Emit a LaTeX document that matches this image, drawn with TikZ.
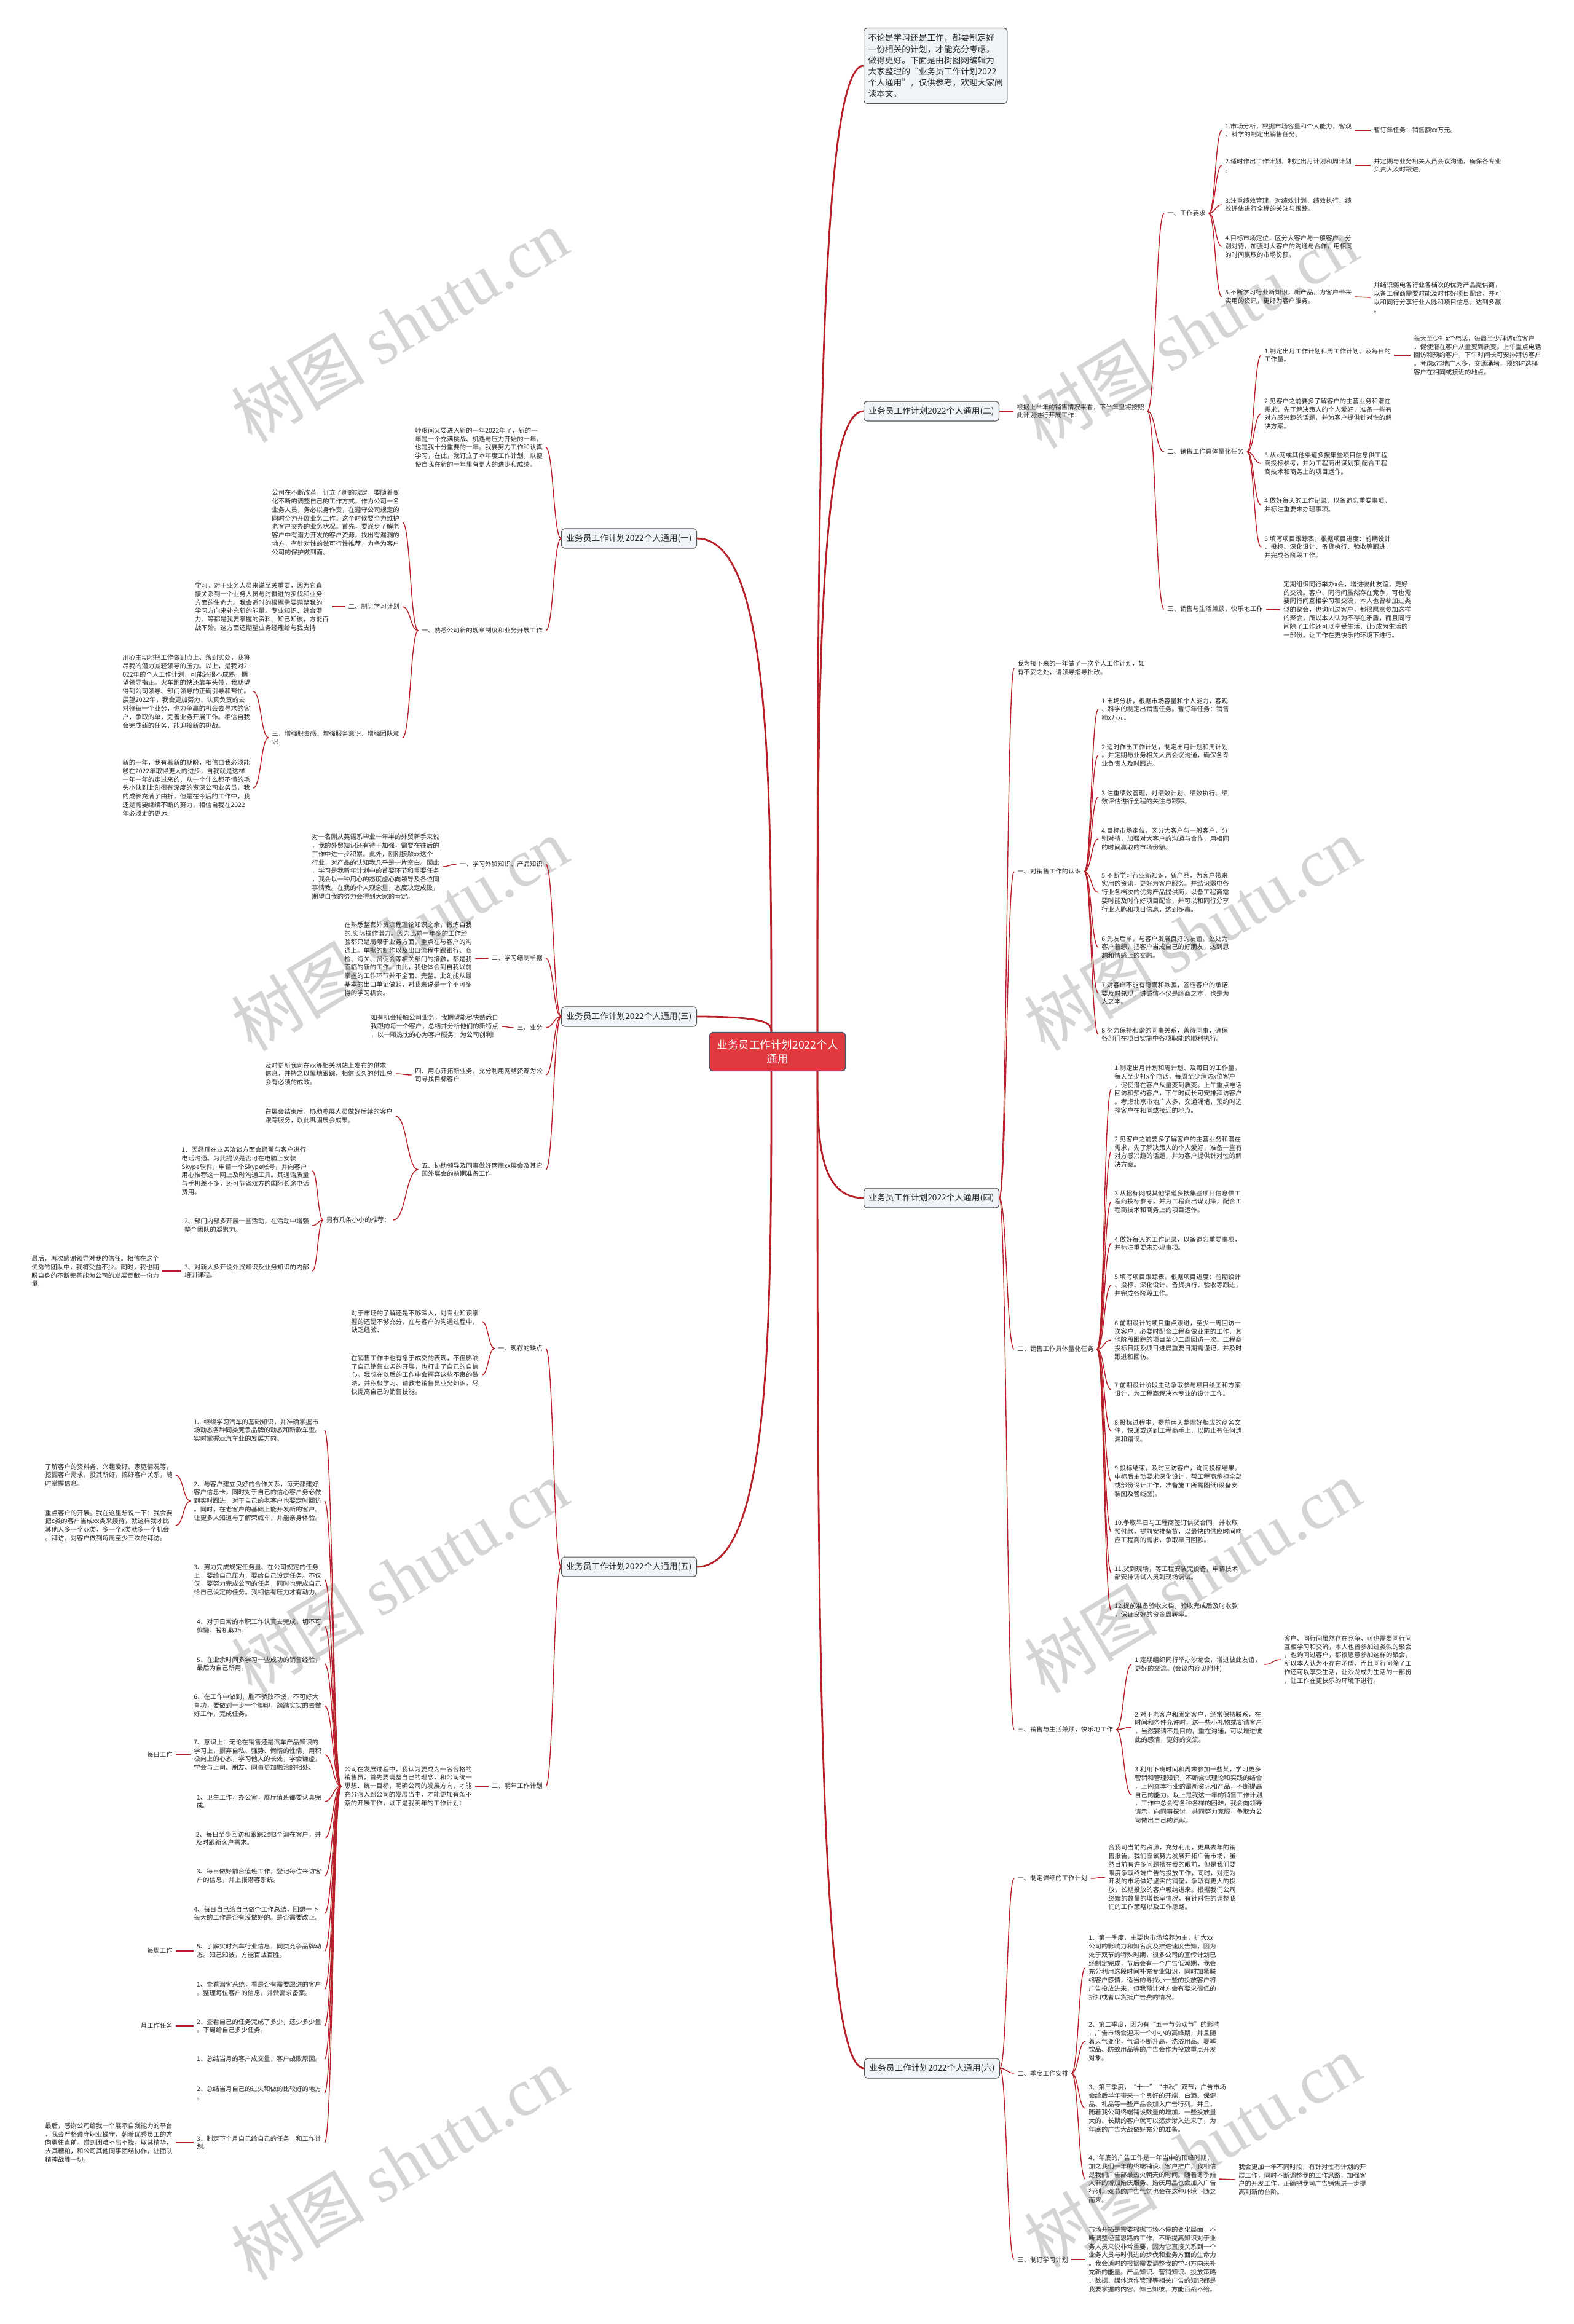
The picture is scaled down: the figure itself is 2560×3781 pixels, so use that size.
\documentclass[tikz,border=0pt]{standalone}
\usepackage{fontspec}
\setmainfont{Noto Sans CJK SC}
\newfontfamily\wmlatin{Liberation Serif}
\usepackage{xcolor}
\usepackage{tikz}
\usetikzlibrary{calc}

\definecolor{lred}{RGB}{183,32,40}
\definecolor{rootred}{RGB}{224,58,62}
\definecolor{rootline}{RGB}{70,84,110}
\definecolor{boxfill}{RGB}{240,243,247}
\definecolor{boxline}{RGB}{80,80,80}
\definecolor{txtc}{RGB}{40,40,40}

\newcommand\cntext{\fontsize{5.9pt}{7.9pt}\selectfont}
\newcommand\cnbox{\fontsize{7.8pt}{10.3pt}\selectfont}
\newcommand\cnroot{\fontsize{10pt}{13pt}\selectfont}
\newcommand\cnwm{\fontsize{62pt}{66pt}\selectfont}

\begin{document}
\begin{tikzpicture}[
    x=0.02cm, y=-0.02cm,
    rootbox/.style={rectangle, rounded corners=3pt, draw=rootline, fill=rootred, line width=0.8pt, text=white, font=\cnroot, align=center, minimum width=4.42cm, minimum height=1.26cm, inner sep=2pt},
    branch/.style={rectangle, rounded corners=3pt, draw=boxline, fill=boxfill, line width=0.6pt, text=txtc, font=\cnbox, minimum width=4.4cm, minimum height=0.64cm, inner sep=2pt, anchor=west},
    introbox/.style={branch, align=left, inner sep=4pt, minimum height=2.46cm},
    txt/.style={font=\cntext, text=txtc, align=left, inner sep=1pt, outer sep=2pt},
    rt/.style={txt, anchor=west},
    lt/.style={txt, anchor=east},
    trunk/.style={draw=lred, line width=1.6pt, to path={let \p1=(\tikztostart), \p2=(\tikztotarget) in .. controls (\x1,{0.5*\y1+0.5*\y2}) and (\x1,\y2) .. (\tikztotarget)}},
    link/.style={draw=lred, line width=0.8pt, to path={let \p1=(\tikztostart), \p2=(\tikztotarget) in .. controls ({0.5*\x1+0.5*\x2},\y1) and ({0.5*\x1+0.5*\x2},\y2) .. (\tikztotarget)}},
    wm/.style={text=black!17, rotate=31, font=\cnwm},
]

% Page and watermarks
\fill[white] (0, 0) rectangle (2560, 3781);
\path[use as bounding box] (0, 0) rectangle (2560, 3781);
\node[wm] (wm1) at (650, 530) {树图 {\wmlatin shutu.cn}};
\node[wm] (wm2) at (1935, 540) {树图 {\wmlatin shutu.cn}};
\node[wm] (wm3) at (650, 1520) {树图 {\wmlatin shutu.cn}};
\node[wm] (wm4) at (1940, 1520) {树图 {\wmlatin shutu.cn}};
\node[wm] (wm5) at (650, 2565) {树图 {\wmlatin shutu.cn}};
\node[wm] (wm6) at (1940, 2565) {树图 {\wmlatin shutu.cn}};
\node[wm] (wm7) at (650, 3520) {树图 {\wmlatin shutu.cn}};
\node[wm] (wm8) at (1940, 3500) {树图 {\wmlatin shutu.cn}};

% Root
\node[rootbox] (root) at (1265, 1711) {业务员工作计划2022个人\\通用};
\coordinate (rtu) at ($(root.north)+(65, 0)$);
\coordinate (rtd) at ($(root.south)+(65, 0)$);
\coordinate (ltu) at ($(root.north)+(-10, 0)$);
\coordinate (ltd) at ($(root.south)+(-10, 0)$);

% Main branches
\node[introbox] (intro) at (1405, 107) {不论是学习还是工作，都要制定好\\一份相关的计划，才能充分考虑，\\做得更好。下面是由树图网编辑为\\大家整理的“业务员工作计划2022\\个人通用”，仅供参考，欢迎大家阅\\读本文。};
\node[branch] (b2) at (1405, 669) {业务员工作计划2022个人通用(二)};
\node[branch] (b4) at (1405, 1949) {业务员工作计划2022个人通用(四)};
\node[branch] (b6) at (1406, 3365) {业务员工作计划2022个人通用(六)};
\node[branch, anchor=east] (b1) at (1134, 876) {业务员工作计划2022个人通用(一)};
\node[branch, anchor=east] (b3) at (1134, 1654) {业务员工作计划2022个人通用(三)};
\node[branch, anchor=east] (b5) at (1134, 2549) {业务员工作计划2022个人通用(五)};

\draw[trunk] (rtu) to (intro.west);
\draw[trunk] (rtu) to (b2.west);
\draw[trunk] (rtd) to (b4.west);
\draw[trunk] (rtd) to (b6.west);
\draw[trunk] (ltu) to (b1.east);
\draw[trunk] (ltu) to (b3.east);
\draw[trunk] (ltd) to (b5.east);

% Branch (二)
\node[rt] (b2t) at (1649, 669) {根据上半年的销售情况来看，下半年里将按照\\此计划进行开展工作：};
\node[rt] (b2a) at (1894, 347) {一、工作要求};
\node[rt] (b2a1) at (1988, 212) {1.市场分析，根据市场容量和个人能力，客观\\、科学的制定出销售任务。};
\node[rt] (b2a1x) at (2230, 212) {暂订年任务：销售额xx万元。};
\node[rt] (b2a2) at (1988, 269) {2.适时作出工作计划，制定出月计划和周计划\\。};
\node[rt] (b2a2x) at (2230, 269) {并定期与业务相关人员会议沟通，确保各专业\\负责人及时跟进。};
\node[rt] (b2a3) at (1988, 333) {3.注重绩效管理，对绩效计划、绩效执行、绩\\效评估进行全程的关注与跟踪。};
\node[rt] (b2a4) at (1988, 401) {4.目标市场定位，区分大客户与一般客户，分\\别对待，加强对大客户的沟通与合作，用相同\\的时间赢取的市场份额。};
\node[rt] (b2a5) at (1988, 483) {5.不断学习行业新知识，新产品，为客户带来\\实用的资讯，更好为客户服务。};
\node[rt] (b2a5x) at (2230, 484) {并结识弱电各行业各档次的优秀产品提供商，\\以备工程商需要时能及时作好项目配合，并可\\以和同行分享行业人脉和项目信息，达到多赢\\。};
\node[rt] (b2b) at (1894, 735) {二、销售工作具体量化任务};
\node[rt] (b2b1) at (2052, 578) {1.制定出月工作计划和周工作计划、及每日的\\工作量。};
\node[rt] (b2b1x) at (2295, 578) {每天至少打x个电话，每周至少拜访x位客户\\，促使潜在客户从量变到质变。上午重点电话\\回访和预约客户，下午时间长可安排拜访客户\\。考虑x市地广人多，交通涌堵，预约时选择\\客户在相同或接近的地点。};
\node[rt] (b2b2) at (2052, 673) {2.见客户之前要多了解客户的主营业务和潜在\\需求，先了解决策人的个人爱好，准备一些有\\对方感兴趣的话题，并为客户提供针对性的解\\决方案。};
\node[rt] (b2b3) at (2052, 754) {3.从x网或其他渠道多搜集些项目信息供工程\\商投标参考，并为工程商出谋划策,配合工程\\商技术和商务上的项目运作。};
\node[rt] (b2b4) at (2052, 822) {4.做好每天的工作记录，以备遗忘重要事项，\\并标注重要未办理事项。};
\node[rt] (b2b5) at (2052, 890) {5.填写项目跟踪表，根据项目进度：前期设计\\、投标、深化设计、备货执行、验收等跟进，\\并完成各阶段工作。};
\node[rt] (b2c) at (1894, 991) {三、销售与生活兼顾，快乐地工作};
\node[rt] (b2cx) at (2083, 992) {定期组织同行举办x会，增进彼此友谊，更好\\的交流。客户、同行间虽然存在竞争，可也需\\要同行间互相学习和交流，本人也曾参加过类\\似的聚会，也询问过客户，都很愿意参加这样\\的聚会，所以本人认为不存在矛盾，而且同行\\间除了工作还可以享受生活，让x成为生活的\\一部份，让工作在更快乐的环境下进行。};

\draw[link] (b2.east) to (b2t.west);
\draw[link] (b2t.east) to (b2a.west);
\draw[link] (b2t.east) to (b2b.west);
\draw[link] (b2t.east) to (b2c.west);
\draw[link] (b2a.east) to (b2a1.west);
\draw[link] (b2a.east) to (b2a2.west);
\draw[link] (b2a.east) to (b2a3.west);
\draw[link] (b2a.east) to (b2a4.west);
\draw[link] (b2a.east) to (b2a5.west);
\draw[link] (b2a1.east) to (b2a1x.west);
\draw[link] (b2a2.east) to (b2a2x.west);
\draw[link] (b2a5.east) to (b2a5x.west);
\draw[link] (b2b.east) to (b2b1.west);
\draw[link] (b2b.east) to (b2b2.west);
\draw[link] (b2b.east) to (b2b3.west);
\draw[link] (b2b.east) to (b2b4.west);
\draw[link] (b2b.east) to (b2b5.west);
\draw[link] (b2b1.east) to (b2b1x.west);
\draw[link] (b2c.east) to (b2cx.west);

% Branch (四)
\node[rt] (b4t) at (1650, 1087) {我为接下来的一年做了一次个人工作计划，如\\有不妥之处，请领导指导批改。};
\node[rt] (b4a) at (1650, 1418) {一、对销售工作的认识};
\node[rt] (b4a1) at (1787, 1154) {1.市场分析，根据市场容量和个人能力，客观\\、科学的制定出销售任务。暂订年任务：销售\\额x万元。};
\node[rt] (b4a2) at (1787, 1229) {2.适时作出工作计划，制定出月计划和周计划\\。并定期与业务相关人员会议沟通，确保各专\\业负责人及时跟进。};
\node[rt] (b4a3) at (1787, 1297) {3.注重绩效管理，对绩效计划、绩效执行、绩\\效评估进行全程的关注与跟踪。};
\node[rt] (b4a4) at (1787, 1365) {4.目标市场定位，区分大客户与一般客户，分\\别对待，加强对大客户的沟通与合作，用相同\\的时间赢取的市场份额。};
\node[rt] (b4a5) at (1787, 1452) {5.不断学习行业新知识，新产品，为客户带来\\实用的资讯，更好为客户服务。并结识弱电各\\行业各档次的优秀产品提供商，以备工程商需\\要时能及时作好项目配合，并可以和同行分享\\行业人脉和项目信息，达到多赢。};
\node[rt] (b4a6) at (1787, 1541) {6.先友后单，与客户发展良好的友谊，处处为\\客户着想，把客户当成自己的好朋友，达到思\\想和情感上的交融。};
\node[rt] (b4a7) at (1787, 1616) {7.对客户不能有隐瞒和欺骗，答应客户的承诺\\要及时兑现，讲诚信不仅是经商之本，也是为\\人之本。};
\node[rt] (b4a8) at (1787, 1683) {8.努力保持和谐的同事关系，善待同事，确保\\各部门在项目实施中各项职能的顺利执行。};
\node[rt] (b4b) at (1650, 2195) {二、销售工作具体量化任务};
\node[rt] (b4b1) at (1808, 1772) {1.制定出月计划和周计划、及每日的工作量。\\每天至少打x个电话，每周至少拜访x位客户\\，促使潜在客户从量变到质变。上午重点电话\\回访和预约客户，下午时间长可安排拜访客户\\。考虑北京市地广人多，交通涌堵，预约时选\\择客户在相同或接近的地点。};
\node[rt] (b4b2) at (1808, 1874) {2.见客户之前要多了解客户的主营业务和潜在\\需求，先了解决策人的个人爱好，准备一些有\\对方感兴趣的话题，并为客户提供针对性的解\\决方案。};
\node[rt] (b4b3) at (1808, 1955) {3.从招标网或其他渠道多搜集些项目信息供工\\程商投标参考，并为工程商出谋划策，配合工\\程商技术和商务上的项目运作。};
\node[rt] (b4b4) at (1808, 2023) {4.做好每天的工作记录，以备遗忘重要事项，\\并标注重要未办理事项。};
\node[rt] (b4b5) at (1808, 2091) {5.填写项目跟踪表，根据项目进度：前期设计\\、投标、深化设计、备货执行、验收等跟进，\\并完成各阶段工作。};
\node[rt] (b4b6) at (1808, 2180) {6.前期设计的项目重点跟进，至少一周回访一\\次客户，必要时配合工程商做业主的工作，其\\他阶段跟踪的项目至少二周回访一次。工程商\\投标日期及项目进展重要日期需谨记，并及时\\跟进和回访。};
\node[rt] (b4b7) at (1808, 2261) {7.前期设计阶段主动争取参与项目绘图和方案\\设计，为工程商解决本专业的设计工作。};
\node[rt] (b4b8) at (1808, 2328) {8.投标过程中，提前两天整理好相应的商务文\\件，快递或送到工程商手上，以防止有任何遗\\漏和错误。};
\node[rt] (b4b9) at (1808, 2410) {9.投标结束，及时回访客户，询问投标结果。\\中标后主动要求深化设计，帮工程商承担全部\\或部份设计工作，准备施工所需图纸(设备安\\装图及管线图)。};
\node[rt] (b4b10) at (1808, 2492) {10.争取早日与工程商签订供货合同，并收取\\预付款，提前安排备货，以最快的供应时间响\\应工程商的需求，争取早日回款。};
\node[rt] (b4b11) at (1808, 2559) {11.货到现场，等工程安装完设备，申请技术\\部安排调试人员到现场调试。};
\node[rt] (b4b12) at (1808, 2620) {12.提前准备验收文档，验收完成后及时收款\\，保证良好的资金周转率。};
\node[rt] (b4c) at (1650, 2814) {三、销售与生活兼顾，快乐地工作};
\node[rt] (b4c1) at (1841, 2708) {1.定期组织同行举办沙龙会，增进彼此友谊，\\更好的交流。(会议内容见附件)};
\node[rt] (b4c1x) at (2084, 2700) {客户、同行间虽然存在竞争，可也需要同行间\\互相学习和交流，本人也曾参加过类似的聚会\\，也询问过客户，都很愿意参加这样的聚会，\\所以本人认为不存在矛盾，而且同行间除了工\\作还可以享受生活，让沙龙成为生活的一部份\\，让工作在更快乐的环境下进行。};
\node[rt] (b4c2) at (1841, 2810) {2.对于老客户和固定客户，经常保持联系，在\\时间和条件允许时，送一些小礼物或宴请客户\\，当然宴请不是目的，重在沟通，可以增进彼\\此的感情，更好的交流。};
\node[rt] (b4c3) at (1841, 2920) {3.利用下班时间和周末参加一些某，学习更多\\营销和管理知识，不断尝试理论和实践的结合\\，上网查本行业的最新资讯和产品，不断提高\\自己的能力。以上是我这一年的销售工作计划\\，工作中总会有各种各样的困难，我会向领导\\请示，向同事探讨，共同努力克服，争取为公\\司做出自己的贡献。};

\draw[link] (b4.east) to (b4t.west);
\draw[link] (b4.east) to (b4a.west);
\draw[link] (b4.east) to (b4b.west);
\draw[link] (b4.east) to (b4c.west);
\draw[link] (b4a.east) to (b4a1.west);
\draw[link] (b4a.east) to (b4a2.west);
\draw[link] (b4a.east) to (b4a3.west);
\draw[link] (b4a.east) to (b4a4.west);
\draw[link] (b4a.east) to (b4a5.west);
\draw[link] (b4a.east) to (b4a6.west);
\draw[link] (b4a.east) to (b4a7.west);
\draw[link] (b4a.east) to (b4a8.west);
\draw[link] (b4b.east) to (b4b1.west);
\draw[link] (b4b.east) to (b4b2.west);
\draw[link] (b4b.east) to (b4b3.west);
\draw[link] (b4b.east) to (b4b4.west);
\draw[link] (b4b.east) to (b4b5.west);
\draw[link] (b4b.east) to (b4b6.west);
\draw[link] (b4b.east) to (b4b7.west);
\draw[link] (b4b.east) to (b4b8.west);
\draw[link] (b4b.east) to (b4b9.west);
\draw[link] (b4b.east) to (b4b10.west);
\draw[link] (b4b.east) to (b4b11.west);
\draw[link] (b4b.east) to (b4b12.west);
\draw[link] (b4c.east) to (b4c1.west);
\draw[link] (b4c.east) to (b4c2.west);
\draw[link] (b4c.east) to (b4c3.west);
\draw[link] (b4c1.east) to (b4c1x.west);

% Branch (六)
\node[rt] (b6a) at (1650, 3056) {一、制定详细的工作计划};
\node[rt] (b6ax) at (1798, 3054) {合我司当前的资源，充分利用，更具去年的销\\售报告，我们应该努力发展开拓广告市场，虽\\然目前有许多问题摆在我的眼前，但是我们要\\限度争取终端广告的投放工作，同时，对还为\\开发的市场做好坚实的铺垫，争取有更大的投\\放，长期投放的客户吸纳进来。根据我们公司\\终端的数量的增长率情况，有针对性的调整我\\们的工作策略以及工作思路。};
\node[rt] (b6b) at (1650, 3373) {二、季度工作安排};
\node[rt] (b6b1) at (1766, 3201) {1、第一季度，主要也市场培养为主，扩大xx\\公司的影响力和知名度及推进速度告知，因为\\处于双节的特殊时期，很多公司的宣传计划已\\经制定完成，节后会有一个广告低潮期，我会\\充分利用这段时间补充专业知识，同时加紧联\\络客户感情，适当的寻找小一些的投放客户将\\广告投放进来，但我预计对方会有要求很低的\\折扣或者以货抵广告费的情况。};
\node[rt] (b6b2) at (1766, 3321) {2、第二季度，因为有“五一节劳动节”的影响\\，广告市场会迎来一个小小的高峰期，并且随\\着天气变化，气温不断升高，洗浴用品、夏季\\饮品、防蚊用品等的广告会作为投放重点开发\\对象。};
\node[rt] (b6b3) at (1766, 3430) {3、第三季度，“十一”“中秋”双节，广告市场\\会给后半年带来一个良好的开端，白酒、保健\\品、礼品等一些产品会加入广告行列。并且，\\随着我公司终端铺设数量的增加，一些投放量\\大的、长期的客户就可以逐步渗入进来了，为\\年底的广告大战做好充分的准备。};
\node[rt] (b6b4) at (1766, 3545) {4、年底的广告工作是一年当中的顶峰时期，\\加之我们一年的终端铺设、客户推广，我相信\\是我们广告部最热火朝天的时间。随着冬季婚\\人群的增加婚庆服务、婚庆用品也会加入广告\\行列，双节的广告气氛也会在这种环境下随之\\而来。};
\node[rt] (b6b4x) at (2010, 3546) {我会更加一年不同时段，有针对性有计划的开\\展工作，同时不断调整我的工作思路，加强客\\户的开发工作，正确把我司广告销售进一步提\\高到新的台阶。};
\node[rt] (b6c) at (1650, 3676) {三、制订学习计划};
\node[rt] (b6cx) at (1766, 3676) {市场开拓是需要根据市场不停的变化局面，不\\断调整经营思路的工作，不断提高知识对于业\\务人员来说非常重要，因为它直接关系到一个\\业务人员与时俱进的步伐和业务方面的生命力\\。我会适时的根据需要调整我的学习方向来补\\充新的能量。产品知识、营销知识、投放策略\\、数据、媒体运作管理等相关广告的知识都是\\我要掌握的内容，知己知彼，方能百战不殆。};

\draw[link] (b6.east) to (b6a.west);
\draw[link] (b6.east) to (b6b.west);
\draw[link] (b6.east) to (b6c.west);
\draw[link] (b6a.east) to (b6ax.west);
\draw[link] (b6b.east) to (b6b1.west);
\draw[link] (b6b.east) to (b6b2.west);
\draw[link] (b6b.east) to (b6b3.west);
\draw[link] (b6b.east) to (b6b4.west);
\draw[link] (b6b4.east) to (b6b4x.west);
\draw[link] (b6c.east) to (b6cx.west);

% Branch (一)
\node[lt] (b1a) at (888, 728) {转眼间又要进入新的一年2022年了，新的一\\年是一个充满挑战、机遇与压力开始的一年，\\也是我十分重要的一年。我要努力工作和认真\\学习，在此，我订立了本年度工作计划，以便\\使自我在新的一年里有更大的进步和成绩。};
\node[lt] (b1b) at (888, 1026) {一、熟悉公司新的规章制度和业务开展工作};
\node[lt] (b1b1) at (655, 850) {公司在不断改革，订立了新的规定，要随着变\\化不断的调整自己的工作方式。作为公司一名\\业务人员，务必以身作责，在遵守公司规定的\\同时全力开展业务工作。这个时候要全力维护\\老客户交办的业务状况。首先，要逐步了解老\\客户中有潜力开发的客户资源，找出有漏洞的\\地方，有针对性的做可行性推荐，力争为客户\\公司的保护做到面。};
\node[lt] (b1b2) at (655, 987) {二、制订学习计划};
\node[lt] (b1b2x) at (540, 987) {学习。对于业务人员来说至关重要，因为它直\\接关系到一个业务人员与时俱进的步伐和业务\\方面的生命力。我会适时的根据需要调整我的\\学习方向来补充新的能量。专业知识、综合潜\\力、等都是我要掌握的资料。知己知彼，方能百\\战不殆。这方面还期望业务经理给与我支持};
\node[lt] (b1b3) at (655, 1200) {三、增强职责感、增强服务意识、增强团队意\\识};
\node[lt] (b1b3a) at (412, 1125) {用心主动地把工作做到点上、落到实处，我将\\尽我的潜力减轻领导的压力。以上，是我对2\\022年的个人工作计划，可能还很不成熟，期\\望领导指正。火车跑的快还靠车头带，我期望\\得到公司领导、部门领导的正确引导和帮忙。\\展望2022年，我会更加努力、认真负责的去\\对待每一个业务，也力争赢的机会去寻求的客\\户，争取的单，完善业务开展工作。相信自我\\会完成新的任务，能迎接新的挑战。};
\node[lt] (b1b3b) at (412, 1282) {新的一年，我有着新的期盼，相信自我必须能\\够在2022年取得更大的进步，自我就是这样\\一年一年的走过来的，从一个什么都不懂的毛\\头小伙到此刻很有深度的资深公司业务员，我\\的成长充满了曲折，但是在今后的工作中，我\\还是需要继续不断的努力，相信自我在2022\\年必须走的更远!};

\draw[link] (b1.west) to (b1a.east);
\draw[link] (b1.west) to (b1b.east);
\draw[link] (b1b.west) to (b1b1.east);
\draw[link] (b1b.west) to (b1b2.east);
\draw[link] (b1b.west) to (b1b3.east);
\draw[link] (b1b2.west) to (b1b2x.east);
\draw[link] (b1b3.west) to (b1b3a.east);
\draw[link] (b1b3.west) to (b1b3b.east);

% Branch (三)
\node[lt] (b3a) at (888, 1406) {一、学习外贸知识、产品知识};
\node[lt] (b3ax) at (720, 1410) {对一名刚从英语系毕业一年半的外贸新手来说\\，我的外贸知识还有待于加强，需要在往后的\\工作中进一步积累。此外，刚刚接触xx这个\\行业，对产品的认知我几乎是一片空白。因此\\，学习是我新年计划中的首要环节和重要任务\\，我会以一种用心的态度虚心向领导及各位同\\事请教。在我的个人观念里，态度决定成败，\\期望自我的努力会得到大家的肯定。};
\node[lt] (b3b) at (888, 1559) {二、学习缮制单据};
\node[lt] (b3bx) at (773, 1560) {在熟悉整套外贸流程理论知识之余，锻炼自我\\的.实际操作潜力。因为此前一年多的工作经\\验都只是局限于业务方面，重点在与客户的沟\\通上。单据的制作以及出口流程中跟银行、商\\检、海关、贸促会等相关部门的接触，都是我\\面临的新的工作。由此，我也体会到自我以前\\掌握的工作环节并不全面、完整。此刻能从最\\基本的出口单证做起，对我来说是一个不可多\\得的学习机会。};
\node[lt] (b3c) at (888, 1672) {三、业务};
\node[lt] (b3cx) at (816, 1670) {如有机会接触公司业务，我期望能尽快熟悉自\\我跟的每一个客户，总结并分析他们的新特点\\，以一颗热忱的心为客户服务，为公司创利!};
\node[lt] (b3d) at (888, 1749) {四、用心开拓新业务，充分利用网络资源为公\\司寻找目标客户};
\node[lt] (b3dx) at (644, 1747) {及时更新我司在xx等相关网站上发布的供求\\信息，并持之以恒地跟踪，相信长久的付出总\\会有必须的成效。};
\node[lt] (b3e) at (888, 1903) {五、协助领导及同事做好两届xx展会及其它\\国外展会的前期准备工作};
\node[lt] (b3e1) at (644, 1816) {在展会结束后，协助参展人员做好后续的客户\\跟踪服务，以此巩固展会成果。};
\node[lt] (b3e2) at (640, 1985) {另有几条小小的推荐：};
\node[lt] (b3e2a) at (508, 1905) {1、因经理在业务洽谈方面会经常与客户进行\\电话沟通。为此提议是否可在电脑上安装\\Skype软件，申请一个Skype帐号，并向客户\\用心推荐这一网上及时沟通工具。其通话质量\\与手机差不多，还可节省双方的国际长途电话\\费用。};
\node[lt] (b3e2b) at (508, 1994) {2、部门内部多开展一些活动，在活动中增强\\整个团队的凝聚力。};
\node[lt] (b3e2c) at (508, 2068) {3、对新人多开设外贸知识及业务知识的内部\\培训课程。};
\node[lt] (b3e2cx) at (264, 2068) {最后，再次感谢领导对我的信任。相信在这个\\优秀的团队中，我将受益不少。同时，我也期\\盼自身的不断完善能为公司的发展贡献一份力\\量!};

\draw[link] (b3.west) to (b3a.east);
\draw[link] (b3.west) to (b3b.east);
\draw[link] (b3.west) to (b3c.east);
\draw[link] (b3.west) to (b3d.east);
\draw[link] (b3.west) to (b3e.east);
\draw[link] (b3a.west) to (b3ax.east);
\draw[link] (b3b.west) to (b3bx.east);
\draw[link] (b3c.west) to (b3cx.east);
\draw[link] (b3d.west) to (b3dx.east);
\draw[link] (b3e.west) to (b3e1.east);
\draw[link] (b3e.west) to (b3e2.east);
\draw[link] (b3e2.west) to (b3e2a.east);
\draw[link] (b3e2.west) to (b3e2b.east);
\draw[link] (b3e2.west) to (b3e2c.east);
\draw[link] (b3e2c.west) to (b3e2cx.east);

% Branch (五)
\node[lt] (b5a) at (888, 2194) {一、现存的缺点};
\node[lt] (b5a1) at (784, 2150) {对于市场的了解还是不够深入，对专业知识掌\\握的还是不够充分，在与客户的沟通过程中，\\缺乏经验、};
\node[lt] (b5a2) at (784, 2237) {在销售工作中也有急于成交的表现，不但影响\\了自己销售业务的开展，也打击了自己的自信\\心。我想在以后的工作中会摒弃这些不良的做\\法，并积极学习、请教老销售员业务知识，尽\\快提高自己的销售技能。};
\node[lt] (b5b) at (888, 2906) {二、明年工作计划};
\node[lt] (b5bt) at (773, 2906) {公司在发展过程中，我认为要成为一名合格的\\销售员，首先要调整自己的理念，和公司统一\\思想、统一目标，明确公司的发展方向，才能\\充分溶入到公司的发展当中，才能更加有条不\\紊的开展工作，以下是我明年的工作计划：};
\node[lt] (b5b1) at (528, 2327) {1、继续学习汽车的基础知识，并准确掌握市\\场动态各种同类竞争品牌的动态和新款车型。\\实时掌握xx汽车业的发展方向。};
\node[lt] (b5b2) at (528, 2442) {2、与客户建立良好的合作关系，每天都建好\\客户信息卡，同时对于自己的信心客户务必做\\到实时跟进，对于自己的老客户也要定时回访\\。同时，在老客户的基础上能开发新的客户。\\让更多人知道与了解荣威车，并能亲身体验。};
\node[lt] (b5b2a) at (286, 2400) {了解客户的资料务、兴趣爱好、家庭情况等，\\挖掘客户需求，投其所好，搞好客户关系，随\\时掌握信息。};
\node[lt] (b5b2b) at (286, 2482) {重点客户的开展。我在这里想说一下：我会要\\把c类的客户当成xx类来接待，就这样我才比\\其他人多一个xx类，多一个x类就多一个机会\\。拜访，对客户做到每周至少三次的拜访。};
\node[lt] (b5b3) at (528, 2570) {3、努力完成规定任务量、在公司规定的任务\\上，要给自己压力，要给自己设定任务。不仅\\仅，要努力完成公司的任务，同时也完成自己\\给自己设定的任务。我相信有压力才有动力。};
\node[lt] (b5b4) at (528, 2646) {4、对于日常的本职工作认真去完成，切不可\\偷懒，投机取巧。};
\node[lt] (b5b5) at (528, 2707) {5、在业余时间多学习一些成功的销售经验，\\最后为自己所用。};
\node[lt] (b5b6) at (528, 2775) {6、在工作中做到，胜不骄败不馁，不可好大\\喜功，要做到一步一个脚印，踏踏实实的去做\\好工作，完成任务。};
\node[lt] (b5b7) at (528, 2855) {7、意识上：无论在销售还是汽车产品知识的\\学习上，摒弃自私、强势、懒惰的性情，用积\\极向上的心态，学习他人的长处，学会谦虚，\\学会与上司、朋友、同事更加融洽的相处、};
\node[lt] (b5b7x) at (286, 2855) {每日工作};
\node[lt] (b5b8) at (528, 2931) {1、卫生工作，办公室，展厅值班都要认真完\\成。};
\node[lt] (b5b9) at (528, 2991) {2、每日至少回访和跟踪2到3个潜在客户，并\\及时跟新客户需求。};
\node[lt] (b5b10) at (528, 3052) {3、每日做好前台值班工作，登记每位来访客\\户的信息，并上报潜客系统。};
\node[lt] (b5b11) at (528, 3113) {4、每日自己给自己做个工作总结，回想一下\\每天的工作是否有没做好的。是否需要改正。};
\node[lt] (b5b12) at (528, 3174) {5、了解实时汽车行业信息，同类竞争品牌动\\态。知己知彼，方能百战百胜。};
\node[lt] (b5b12x) at (286, 3174) {每周工作};
\node[lt] (b5b13) at (528, 3236) {1、查看潜客系统，看是否有需要跟进的客户\\。整理每位客户的信息，并做需求备案。};
\node[lt] (b5b14) at (528, 3296) {2、查看自己的任务完成了多少，还少多少量\\。下周给自己多少任务。};
\node[lt] (b5b14x) at (286, 3296) {月工作任务};
\node[lt] (b5b15) at (528, 3350) {1、总结当月的客户成交量，客户战败原因。};
\node[lt] (b5b16) at (528, 3405) {2、总结当月自己的过失和做的比较好的地方\\。};
\node[lt] (b5b17) at (528, 3486) {3、制定下个月自己给自己的任务，和工作计\\划。};
\node[lt] (b5b17x) at (286, 3486) {最后，感谢公司给我一个展示自我能力的平台\\，我会严格遵守职业操守，朝着优秀员工的方\\向勇往直前。碰到困难不屈不挠，取其精华，\\去其糟粕，和公司其他同事团结协作，让团队\\精神战胜一切。};

\draw[link] (b5.west) to (b5a.east);
\draw[link] (b5.west) to (b5b.east);
\draw[link] (b5a.west) to (b5a1.east);
\draw[link] (b5a.west) to (b5a2.east);
\draw[link] (b5b.west) to (b5bt.east);
\draw[link] (b5bt.west) to (b5b1.east);
\draw[link] (b5bt.west) to (b5b2.east);
\draw[link] (b5bt.west) to (b5b3.east);
\draw[link] (b5bt.west) to (b5b4.east);
\draw[link] (b5bt.west) to (b5b5.east);
\draw[link] (b5bt.west) to (b5b6.east);
\draw[link] (b5bt.west) to (b5b7.east);
\draw[link] (b5bt.west) to (b5b8.east);
\draw[link] (b5bt.west) to (b5b9.east);
\draw[link] (b5bt.west) to (b5b10.east);
\draw[link] (b5bt.west) to (b5b11.east);
\draw[link] (b5bt.west) to (b5b12.east);
\draw[link] (b5bt.west) to (b5b13.east);
\draw[link] (b5bt.west) to (b5b14.east);
\draw[link] (b5bt.west) to (b5b15.east);
\draw[link] (b5bt.west) to (b5b16.east);
\draw[link] (b5bt.west) to (b5b17.east);
\draw[link] (b5b2.west) to (b5b2a.east);
\draw[link] (b5b2.west) to (b5b2b.east);
\draw[link] (b5b7.west) to (b5b7x.east);
\draw[link] (b5b12.west) to (b5b12x.east);
\draw[link] (b5b14.west) to (b5b14x.east);
\draw[link] (b5b17.west) to (b5b17x.east);

\end{tikzpicture}
\end{document}
